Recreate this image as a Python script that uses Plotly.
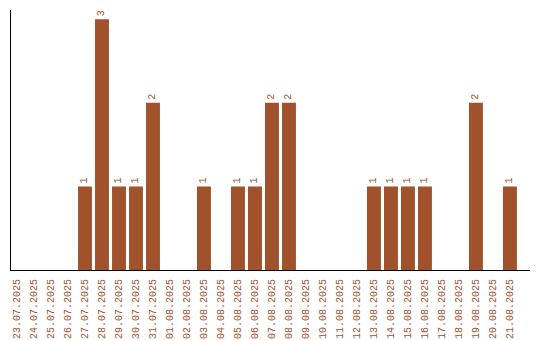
import plotly.graph_objects as go

dates = ["23.07.2025","24.07.2025","25.07.2025","26.07.2025","27.07.2025","28.07.2025",
         "29.07.2025","30.07.2025","31.07.2025","01.08.2025","02.08.2025","03.08.2025",
         "04.08.2025","05.08.2025","06.08.2025","07.08.2025","08.08.2025","09.08.2025",
         "10.08.2025","11.08.2025","12.08.2025","13.08.2025","14.08.2025","15.08.2025",
         "16.08.2025","17.08.2025","18.08.2025","19.08.2025","20.08.2025","21.08.2025"]
counts = [0,0,0,0,1,3,1,1,2,0,0,1,0,1,1,2,2,0,0,0,0,1,1,1,1,0,0,2,0,1]
labels = [str(c) if c > 0 else "" for c in counts]

color = "#A0522D"
font = "Liberation Mono"

fig = go.Figure(go.Bar(
    x=dates, y=counts, text=labels, textposition="outside", textangle=-90,
    marker=dict(color=color, line=dict(width=0)),
    textfont=dict(family=font, size=10, color=color),
    cliponaxis=False, width=0.82,
))
fig.update_layout(
    width=540, height=340,
    margin=dict(l=11, r=10, t=10, b=70),
    paper_bgcolor="white", plot_bgcolor="white",
    showlegend=False,
    xaxis=dict(type="category", range=[-0.353, 30.18], showgrid=False, zeroline=False,
               showline=True, linecolor="black", linewidth=1, ticks="", automargin=False,
               ticklabelstandoff=4,
               tickangle=-90, tickfont=dict(family=font, size=10, color=color)),
    yaxis=dict(range=[0, 3.11], showgrid=False, zeroline=False, showticklabels=False,
               showline=True, linecolor="black", linewidth=1, ticks="", automargin=False),
    uniformtext=dict(minsize=10, mode="show"),
)
fig.write_html("out.html")
